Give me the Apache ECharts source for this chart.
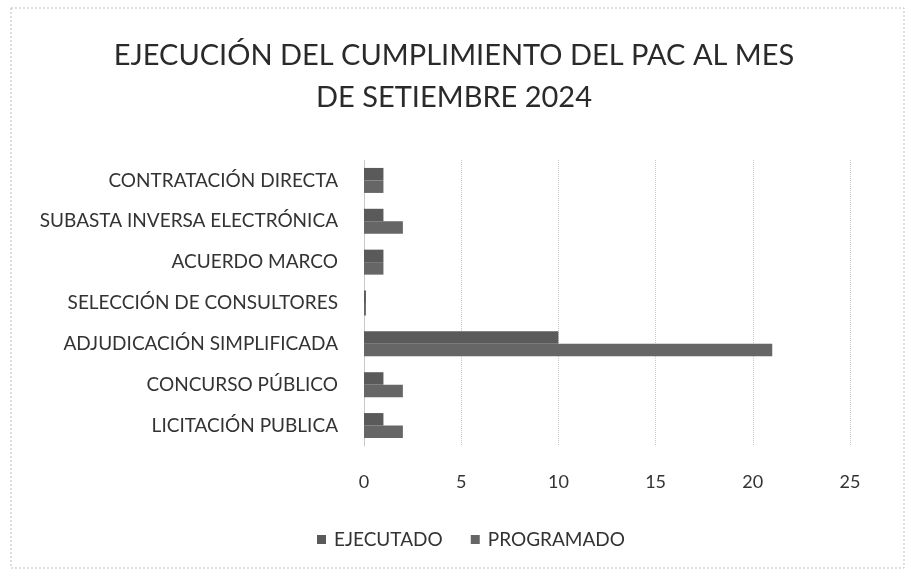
<!DOCTYPE html>
<html>
<head>
<meta charset="utf-8">
<script src="https://cdn.jsdelivr.net/npm/echarts@6/dist/echarts.min.js"></script>
<style>
  html, body { margin: 0; padding: 0; background: #fff; }
  #chart { width: 908px; height: 571px; }
</style>
</head>
<body>
<div id="chart"></div>
<script>
// datos del gráfico (de abajo hacia arriba)
const categorias = [
  "LICITACIÓN PUBLICA",
  "CONCURSO PÚBLICO",
  "ADJUDICACIÓN SIMPLIFICADA",
  "SELECCIÓN DE CONSULTORES",
  "ACUERDO MARCO",
  "SUBASTA INVERSA ELECTRÓNICA",
  "CONTRATACIÓN DIRECTA",
];
const ejecutado = [1, 1, 10, 0.1, 1, 1, 1];
const programado = [2, 2, 21, 0.1, 1, 2, 1];
const ticks = [0, 5, 10, 15, 20, 25];

const fuente = "Lato";
const myChart = echarts.init(document.getElementById("chart"));
const option = {
  animation: false,
  title: {
    text: "EJECUCIÓN DEL CUMPLIMIENTO DEL PAC AL MES\nDE SETIEMBRE 2024",
    left: "center",
    top: 30,
    textStyle: {
      fontFamily: fuente,
      fontSize: 29,
      fontWeight: "normal",
      color: "#2a2a2a",
      lineHeight: 42,
    },
  },
  legend: {
    top: 525,
    left: 312,
    itemWidth: 9,
    itemHeight: 9,
    itemGap: 28,
    icon: "rect",
    textStyle: { fontFamily: fuente, fontSize: 19, color: "#333", padding: [0, 0, 0, 3] },
    data: ["EJECUTADO", "PROGRAMADO"],
  },
  grid: {
    left: 364,
    right: 58,
    top: 160,
    bottom: 125,
  },
  xAxis: {
    type: "value",
    min: ticks[0],
    max: ticks[ticks.length - 1],
    interval: 5,
    axisLine: { show: false },
    axisTick: { show: false },
    splitLine: { lineStyle: { color: "#c8c8c8", type: "dotted" } },
    axisLabel: { fontFamily: fuente, fontSize: 18, color: "#333", margin: 27 },
  },
  yAxis: {
    type: "category",
    data: categorias,
    axisLine: { show: true, lineStyle: { color: "#c8c8c8", type: "dotted" } },
    axisTick: { show: false },
    axisLabel: { fontFamily: fuente, fontSize: 19, color: "#333", margin: 26 },
  },
  series: [
    {
      name: "EJECUTADO",
      type: "bar",
      data: ejecutado,
      barWidth: 12.5,
      barGap: "0%",
      itemStyle: { color: "#5a5a5a" },
    },
    {
      name: "PROGRAMADO",
      type: "bar",
      data: programado,
      barWidth: 12.5,
      itemStyle: { color: "#666666" },
    },
  ],
  graphic: [
    {
      type: "rect",
      shape: { x: 11, y: 8, width: 893, height: 560 },
      style: { fill: "none", stroke: "#bdbdbd", lineWidth: 1, lineDash: [2, 2] },
      silent: true,
    },
  ],
};
myChart.setOption(option);
</script>
</body>
</html>
